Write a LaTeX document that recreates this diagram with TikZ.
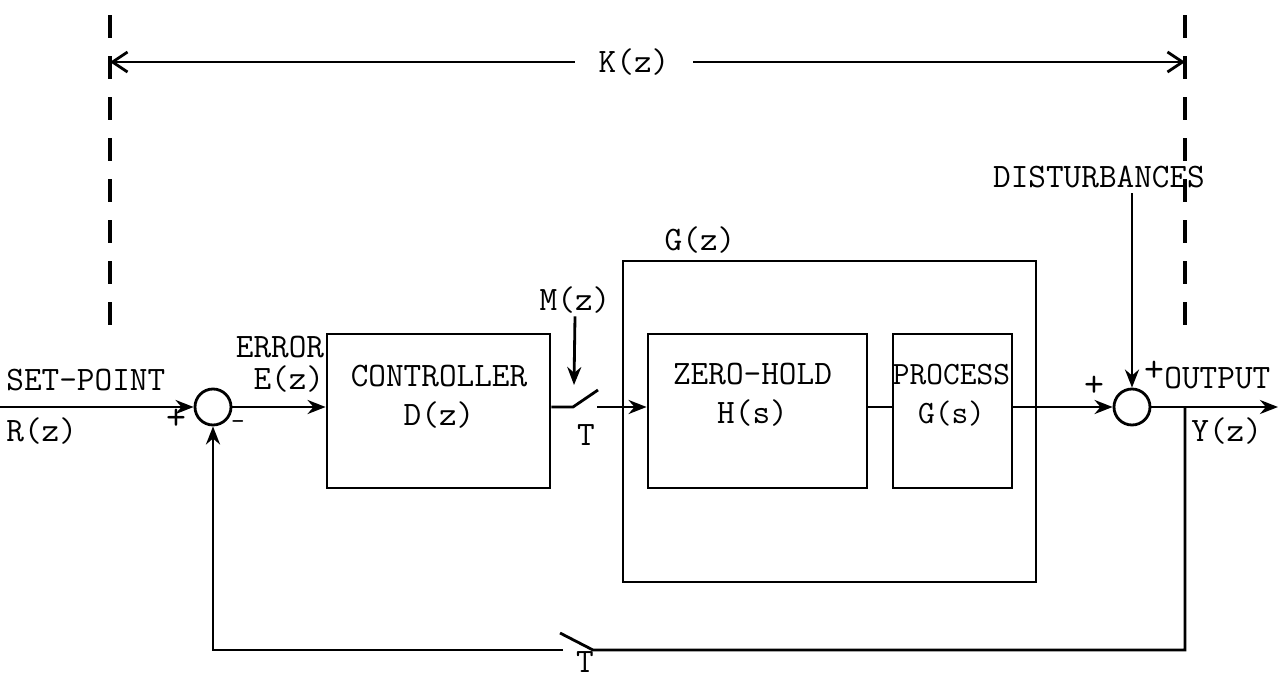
\documentclass[tikz,border=0pt]{standalone}
\usepackage{tikz}
\usetikzlibrary{arrows.meta,positioning,calc}

\begin{document}
\begin{tikzpicture}[
    line width=1.6pt,
    font=\fontsize{19.5}{22}\selectfont\ttfamily,
    blk/.style={rectangle, draw, inner sep=0pt},
    sumnode/.style={circle, draw, minimum size=0.72cm, inner sep=0pt},
    txt/.style={align=center, inner sep=1pt},
    sgn/.style={font=\fontsize{22}{22}\selectfont\ttfamily, inner sep=0pt},
    arrow/.style={-{Stealth[length=0.36cm,width=0.28cm]}},
    barb/.style={-{Straight Barb[length=0.3cm,width=0.4cm]}},
    bdry/.style={dash pattern=on 0.46cm off 0.36cm, line width=1.9pt},
  ]
  \useasboundingbox (0,0) rectangle (25.62,-13.56);

  % blocks
  \node[sumnode] (sum1) at (4.26,-8.14) {};
  \node[blk, minimum width=4.46cm, minimum height=3.08cm] (ctrl) at (8.77,-8.22) {};
  \node[txt] (ctrltxt) at (8.78,-7.93) {CONTROLLER\\D(z)};
  \node[blk, minimum width=8.26cm, minimum height=6.42cm] (plant) at (16.59,-8.43) {};
  \node[blk, minimum width=4.38cm, minimum height=3.08cm] (zoh) at (15.15,-8.22) {};
  \node[txt] (zohtxt) at (15.05,-7.9) {ZERO-HOLD\\H(s)};
  \node[blk, minimum width=2.38cm, minimum height=3.08cm] (proc) at (19.05,-8.22) {};
  \node[txt, font=\fontsize{18.5}{22}\selectfont\ttfamily] (proctxt) at (19.03,-7.9) {PROCESS\\G(s)};
  \node[sumnode] (sum2) at (22.64,-8.14) {};

  % labels
  \node[anchor=west, inner sep=0pt] (sp)   at (0.1,-7.6) {SET-POINT};
  \node[anchor=west, inner sep=0pt] (rz)   at (0.1,-8.62) {R(z)};
  \node[txt, align=right, font=\fontsize{19.5}{18}\selectfont\ttfamily] (err) at (5.6,-7.28) {ERROR\\E(z)};
  \node[sgn] (p1) at (3.52,-8.38) {+};
  \node[sgn, font=\fontsize{15}{15}\selectfont\ttfamily] (m1) at (4.76,-8.5) {-};
  \node[txt] (mz)   at (11.5,-6.0) {M(z)};
  \node[txt] (t1)   at (11.72,-8.7) {T};
  \node[txt] (gz)   at (14.0,-4.8) {G(z)};
  \node[txt] (dist) at (21.98,-3.54) {DISTURBANCES};
  \node[sgn] (p2) at (21.88,-7.72) {+};
  \node[sgn] (p3) at (23.08,-7.42) {+};
  \node[anchor=west, inner sep=0pt] (outl) at (23.26,-7.56) {OUTPUT};
  \node[anchor=west, inner sep=0pt] (yz)   at (23.8,-8.62) {Y(z)};
  \node[anchor=south, inner sep=0pt] (t2)  at (11.7,-13.48) {T};
  \node[txt, inner xsep=0.45cm] (kz) at (12.68,-1.24) {K(z)};

  % coordinates
  \coordinate (rin)  at (0,-8.14);
  \coordinate (sw1a) at (11.46,-8.14);
  \coordinate (sw1e) at (11.96,-7.8);
  \coordinate (sw1b) at (11.94,-8.14);
  \coordinate (mtip) at (11.48,-7.7);
  \coordinate (dtop) at (22.64,-3.86);
  \coordinate (tap)  at (23.7,-8.14);
  \coordinate (yout) at (25.56,-8.14);
  \coordinate (fbr)  at (23.7,-13.0);
  \coordinate (sw2b) at (11.86,-13.0);
  \coordinate (sw2e) at (11.2,-12.66);
  \coordinate (sw2a) at (11.26,-13.0);
  \coordinate (fbl)  at (4.26,-13.0);
  \coordinate (kl)   at (2.2,-1.24);
  \coordinate (kr)   at (23.7,-1.24);

  % boundary of K(z)
  \draw[bdry] (2.2,-0.3) -- (2.2,-6.6);
  \draw[bdry] (23.7,-0.3) -- (23.7,-6.75);
  \draw[barb] (kz) -- (kl);
  \draw[barb] (kz) -- (kr);

  % forward path
  \draw[arrow] (rin) -- (sum1.west);
  \draw[arrow] (sum1.east) -- (sum1 -| ctrl.west);
  \draw (sum1 -| ctrl.east) -- (sw1a) -- (sw1e);
  \draw[arrow] (sw1b) -- (sw1b -| zoh.west);
  \draw[arrow] (mz.south) -- (mtip);
  \draw (sum1 -| zoh.east) -- (sum1 -| proc.west);
  \draw[arrow] (sum1 -| proc.east) -- (sum2.west);
  \draw[arrow] (dtop) -- (sum2.north);
  \draw[arrow] (sum2.east) -- (yout);

  % feedback path
  \draw (tap) -- (fbr) -- (sw2b) -- (sw2e);
  \draw[arrow] (sw2a) -- (fbl) -- (sum1.south);
\end{tikzpicture}
\end{document}
